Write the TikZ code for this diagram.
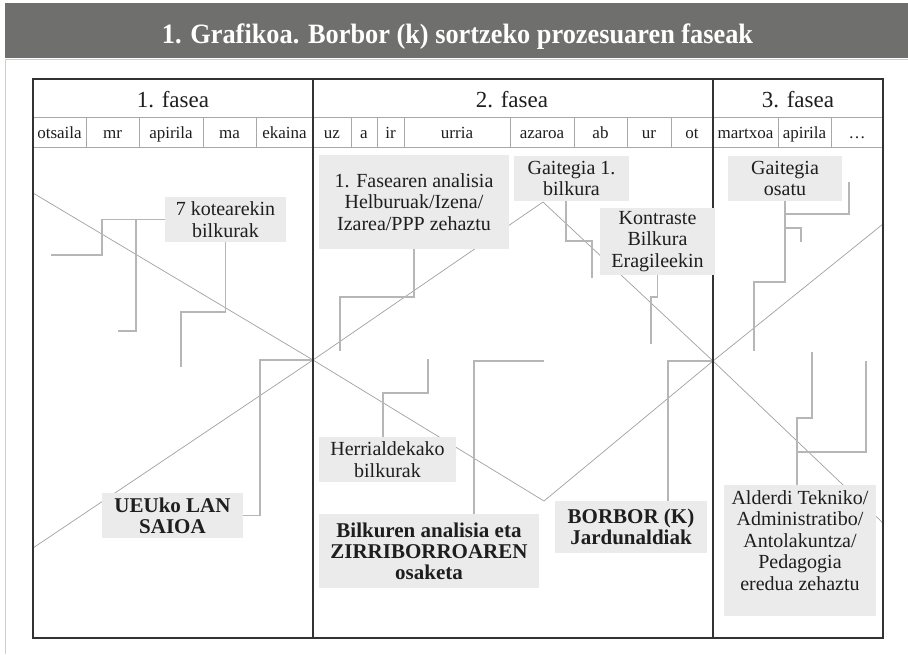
\documentclass[tikz,border=0pt]{standalone}
\usepackage{fontspec}
\setmainfont{Liberation Serif}
\usetikzlibrary{backgrounds}

\definecolor{hdrgray}{RGB}{111,111,109}
\definecolor{boxgray}{RGB}{235,235,235}
\definecolor{diaggray}{RGB}{160,160,160}
\definecolor{conngray}{RGB}{182,182,182}
\definecolor{rulegray}{RGB}{168,168,168}
\definecolor{framegray}{RGB}{205,205,205}
\definecolor{tabdark}{RGB}{50,50,50}
\definecolor{inkgray}{RGB}{30,30,30}

\begin{document}
\begin{tikzpicture}[x=1pt, y=-1pt,
        hdrtitle/.style={anchor=base, text=white, font=\fontsize{28}{30}\selectfont\bfseries},
        fasetxt/.style={anchor=base, text=inkgray, font=\fontsize{23}{24}\selectfont},
        monthtxt/.style={anchor=base, text=inkgray, font=\fontsize{17}{18}\selectfont},
        lbl/.style={fill=boxgray, align=center, inner sep=0pt, text=inkgray, font=\fontsize{20}{21.5}\selectfont},
        boldlbl/.style={lbl, font=\fontsize{21}{21}\selectfont\bfseries},
        conn/.style={draw=conngray, line width=1.2pt},
        diagline/.style={draw=diaggray, line width=0.7pt}]
        \useasboundingbox (0,0) rectangle (908,654);

        % Header
        \fill[hdrgray] (5,3) rectangle (908,58);
        \draw[framegray, line width=1pt] (5,654) -- (5,59) -- (908,59);
        \node[hdrtitle] (title) at (457.5,43) {\scalebox{0.94}[1]{1. Grafikoa. Borbor (k) sortzeko prozesuaren faseak}};

        % Table rows and months
        \draw[rulegray, line width=0.9pt] (33,117) -- (883,117) (33,147) -- (883,147);
        \foreach \xa/\xb/\mon [count=\i] in {33/86/otsaila, 86/139/mr, 139/203/apirila, 203/256/ma,
                256/313/ekaina, 313/351/uz, 351/377/a, 377/404/ir, 404/510/urria, 510/574/azaroa,
                574/627/ab, 627/671/ur, 671/713/ot, 713/778/martxoa, 778/831/apirila, 831/883/\ldots} {
            \node[monthtxt] (m\i) at ({(\xa+\xb)/2},138) {\mon};
            \draw[rulegray, line width=0.9pt] (\xb,117) -- (\xb,147);
        }
        \draw[tabdark, line width=1.3pt] (33,79) rectangle (883,638);
        \draw[tabdark, line width=1.2pt] (313,79) -- (313,638) (713,79) -- (713,638);

        % Phases
        \node[fasetxt] (f1) at (173,107) {1. fasea};
        \node[fasetxt] (f2) at (512,107) {2. fasea};
        \node[fasetxt] (f3) at (798,107) {3. fasea};

        % Labels
        \node[lbl, minimum width=121, minimum height=45] (kote) at (225.5,219.5) {7 kotearekin\\bilkurak};
        \node[lbl, minimum width=190, minimum height=94] (fase1) at (414,202) {1. Fasearen analisia\\Helburuak/Izena/\\Izarea/PPP zehaztu};
        \node[lbl, minimum width=115, minimum height=45] (gait1) at (571.5,178.5) {Gaitegia 1.\\bilkura};
        \node[lbl, minimum width=115, minimum height=67] (kontr) at (657.5,241.5) {Kontraste\\Bilkura\\Eragileekin};
        \node[lbl, minimum width=114, minimum height=45] (gaito) at (785,178.5) {Gaitegia\\osatu};
        \node[lbl, minimum width=137, minimum height=45] (herri) at (387.5,459.5) {Herrialdekako\\bilkurak};
        \node[boldlbl, minimum width=141, minimum height=45] (ueu) at (172.5,515.5) {UEUko LAN\\SAIOA};
        \node[boldlbl, minimum width=220, minimum height=74] (bilk) at (429,551) {Bilkuren analisia eta\\ZIRRIBORROAREN\\osaketa};
        \node[boldlbl, minimum width=152, minimum height=52] (borbor) at (631,527) {BORBOR (K)\\Jardunaldiak};
        \node[lbl, minimum width=152, minimum height=131] (alder) at (800,550.5) {};
        \node[lbl, fill=none] (aldertxt) at (800,540.5) {Alderdi Tekniko/\\Administratibo/\\Antolakuntza/\\Pedagogia\\eredua zehaztu};

        % Crossing lines and connectors
        \begin{scope}[on background layer]
            \coordinate (a0) at (33,193);
            \coordinate (b0) at (33,548);
            \coordinate (x1) at (313,360);
            \coordinate (v1) at (544,501);
            \coordinate (v2) at (543,202);
            \coordinate (x2) at (713,361);
            \coordinate (a1) at (883,224);
            \coordinate (b1) at (883,523);
            \draw[diagline] (a0) -- (x1) -- (v1) -- (x2) -- (a1);
            \draw[diagline] (b0) -- (x1) -- (v2) -- (x2) -- (b1);

            % 1. fasea
            \coordinate (kt1) at (102,255);
            \coordinate (kt2) at (51,255);
            \coordinate (kt3) at (136,331);
            \coordinate (kt4) at (118,331);
            \coordinate (kt5) at (181,312);
            \coordinate (kt6) at (181,367);
            \coordinate (ue1) at (260,360);
            \draw[conn] (kote.west) -| (kt1) -- (kt2);
            \draw[conn] (kote.west -| kt3) -- (kt3) -- (kt4);
            \draw[conn] (kote.south) |- (kt5) -- (kt6);
            \draw[conn] (ueu.east) -| (ue1) -- (x1);

            % 2. fasea
            \coordinate (f1a) at (340,297);
            \coordinate (f1b) at (340,351);
            \coordinate (g1a) at (566,241);
            \coordinate (g1b) at (592,278);
            \coordinate (ko1) at (651,297);
            \coordinate (ko2) at (651,344);
            \coordinate (he1) at (383,393);
            \coordinate (he2) at (428,359);
            \coordinate (bi1) at (474,361);
            \coordinate (bi2) at (544,361);
            \coordinate (bo1) at (668,361);
            \draw[conn] (fase1.south) |- (f1a) -- (f1b);
            \draw[conn] (gait1.south -| g1a) -- (g1a) -| (g1b);
            \draw[conn] (kontr.south) |- (ko1) -- (ko2);
            \draw[conn] (herri.north -| he1) -- (he1) -| (he2);
            \draw[conn] (bilk.north -| bi1) -- (bi1) -- (bi2);
            \draw[conn] (borbor.north -| bo1) -- (bo1) -- (x2);

            % 3. fasea
            \coordinate (go1) at (754,282);
            \coordinate (go2) at (754,351);
            \coordinate (go3) at (849,182);
            \coordinate (go4) at (849,214);
            \coordinate (go5) at (801,228);
            \coordinate (go6) at (801,242);
            \coordinate (al1) at (797,418);
            \coordinate (al2) at (812,352);
            \coordinate (al3) at (797,452);
            \coordinate (al4) at (866,361);
            \draw[conn] (gaito.south) |- (go1) -- (go2);
            \draw[conn] (go3) -- (go4) -- (gaito.south |- go4);
            \draw[conn] (gaito.south |- go5) -| (go6);
            \draw[conn] (alder.north -| al1) -- (al1) -| (al2);
            \draw[conn] (al3) -| (al4);
        \end{scope}

    \end{tikzpicture}
\end{document}
